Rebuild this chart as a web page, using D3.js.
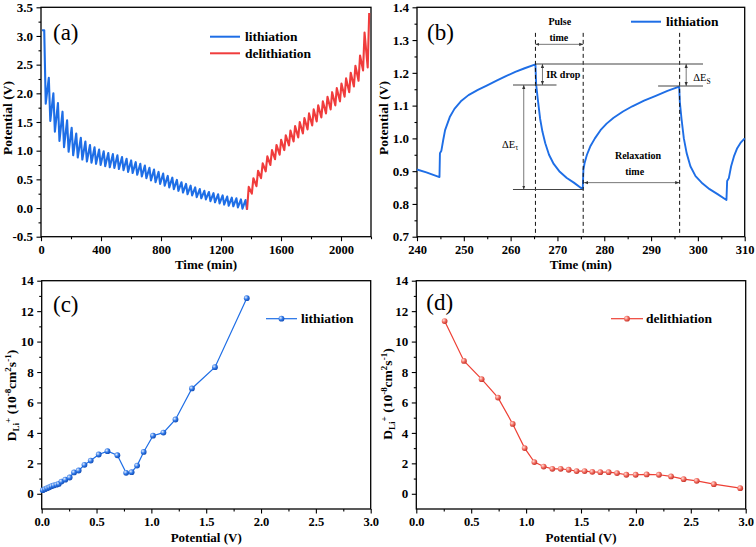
<!DOCTYPE html>
<html><head><meta charset="utf-8">
<script src="https://cdn.jsdelivr.net/npm/d3@7"></script>
<style>
body{margin:0;background:#fff}
svg{display:block}
svg text{font-family:"Liberation Serif","Tinos","Times New Roman","DejaVu Serif","Noto Serif",serif !important}
</style>
</head><body>
<svg id="chart" width="756" height="547"></svg>
<script>
// ---------------- DATA ----------------
// Panel (a): GITT profile. Lithiation pulses (start/end times in min, potentials in V)
const lithRestStart = 7;
const lithPulseStart = [21.5,52,82.5,113,143.5,174,204.5,235,265.5,296,326.5,357,387.5,418,448.5,479,509.5,540,570.5,601,631.5,662,692.5,723,753.5,784,814.5,845,875.5,906,936.5,967,997.5,1028,1058.5,1089,1119.5,1150,1180.5,1211,1241.5,1272,1302.5,1333,1363.5];
const lithPulseEnd = [31.5,62,92.5,123,153.5,184,214.5,245,275.5,306,336.5,367,397.5,428,458.5,489,519.5,550,580.5,611,641.5,672,702.5,733,763.5,794,824.5,855,885.5,916,946.5,977,1007.5,1038,1068.5,1099,1129.5,1160,1190.5,1221,1251.5,1282,1312.5,1343,1373.5];
const lithTop = [3.10,2.27,2.00,1.83,1.68,1.53,1.40,1.30,1.225,1.16,1.10,1.06,1.02,0.99,0.96,0.94,0.92,0.89,0.86,0.83,0.80,0.77,0.74,0.70,0.67,0.63,0.60,0.56,0.53,0.49,0.45,0.42,0.39,0.36,0.33,0.30,0.28,0.26,0.24,0.22,0.20,0.18,0.17,0.15,0.14];
const lithBottom = [1.82,1.52,1.33,1.17,1.06,0.98,0.92,0.88,0.845,0.81,0.79,0.77,0.75,0.73,0.71,0.70,0.68,0.66,0.63,0.61,0.58,0.55,0.52,0.48,0.45,0.42,0.39,0.36,0.33,0.30,0.27,0.24,0.22,0.19,0.17,0.15,0.12,0.10,0.08,0.06,0.04,0.03,0.01,-0.01,-0.03];
// Delithiation pulses
const delithPulseStart = [1374.5,1405.5,1436.5,1467,1498,1529,1560,1591,1622,1653,1684,1715,1746,1777,1808,1838,1869,1900,1931,1962,1993,2024,2055,2086,2117,2147,2178];
const delithPulseEnd = [1385,1416,1447,1478,1509,1540,1570,1601,1632,1663,1694,1725,1756,1787,1818,1848,1879,1910,1941,1972,2003,2034,2065,2096,2127,2157,2188];
const delithTop = [0.37,0.52,0.65,0.78,0.90,1.01,1.10,1.19,1.27,1.35,1.43,1.50,1.57,1.65,1.72,1.79,1.86,1.94,2.02,2.09,2.17,2.26,2.36,2.48,2.66,3.06,3.40];
const delithBottom = [0.25,0.38,0.52,0.64,0.75,0.85,0.93,1.01,1.09,1.16,1.23,1.30,1.37,1.44,1.51,1.58,1.65,1.72,1.79,1.86,1.94,2.02,2.12,2.22,2.40,2.45];

// Panel (b): zoomed lithiation curve [time (min), potential (V)]
const panelBCurve = [
 [240,0.905],[242,0.896],[244.8,0.882],[244.9,0.955],[245.2,0.962],[245.6,0.995],[246,1.025],[247,1.065],[248,1.09],
 [249.5,1.115],[251,1.132],[253,1.148],[255,1.162],[257,1.176],[259,1.19],[261,1.203],[263,1.214],[265.3,1.226],
 [265.45,1.165],[265.8,1.12],[266.3,1.06],[266.8,1.02],[267.4,0.985],[268.2,0.95],[269.2,0.922],[270.5,0.898],
 [272,0.879],[273.5,0.865],[275.4,0.845],[275.55,0.905],[275.8,0.925],[276.3,0.95],[277,0.975],[278,1.0],
 [279.2,1.025],[280.5,1.045],[282,1.063],[284,1.082],[286,1.098],[288.5,1.115],[291,1.13],[293.5,1.145],[296,1.158],
 [296.15,1.11],[296.5,1.06],[297,1.0],[297.6,0.955],[298.4,0.915],[299.5,0.885],[301,0.862],[302.5,0.845],
 [304.2,0.83],[306.1,0.812],[306.25,0.87],[306.6,0.878],[307.1,0.915],[307.7,0.945],[308.4,0.97],[309.2,0.988],[310,1.0]
];
// Panel (b) annotation anchors (data units)
const bDashedTimes = [265.3, 275.5, 296.1];
const bLevels = [ // [t1, t2, V]
 [265.3, 301.1, 1.227],
 [260.5, 269.8, 1.163],
 [291.5, 301.1, 1.160],
 [260.5, 275.6, 0.844]
];
const bVArrows = [ // [t, V1, V2]
 [266.8, 1.227, 1.163],
 [262.8, 1.163, 0.844],
 [297.5, 1.227, 1.160]
];
const bHArrows = [ // [t1, t2, V]
 [265.3, 275.5, 1.287],
 [275.7, 296.0, 0.865]
];

// Panel (c): lithiation diffusion coefficient
const litPotential = [0.01,0.03,0.05,0.07,0.09,0.11,0.135,0.155,0.18,0.215,0.255,0.295,0.337,0.39,0.447,0.52,0.60,0.69,0.77,0.82,0.87,0.93,1.015,1.11,1.22,1.37,1.58,1.87];
const litD = [0.24,0.30,0.37,0.43,0.50,0.55,0.60,0.65,0.80,0.93,1.07,1.40,1.53,1.90,2.18,2.58,2.80,2.53,1.38,1.42,1.85,2.75,3.82,4.02,4.88,6.92,8.32,12.85];
// Panel (d): delithiation diffusion coefficient
const delPotential = [0.258,0.434,0.595,0.744,0.878,0.987,1.075,1.16,1.239,1.315,1.388,1.46,1.533,1.603,1.676,1.752,1.828,1.913,1.998,2.098,2.21,2.32,2.435,2.554,2.71,2.95];
const delD = [11.35,8.73,7.53,6.32,4.59,3.0,2.08,1.79,1.64,1.64,1.58,1.49,1.49,1.44,1.42,1.42,1.36,1.25,1.25,1.27,1.25,1.14,0.96,0.85,0.63,0.37];

// Tick values
const aXTicks = [0,400,800,1200,1600,2000];
const aXMinor = [200,600,1000,1400,1800,2200];
const aYTicks = [-0.5,0,0.5,1.0,1.5,2.0,2.5,3.0,3.5];
const aYMinor = [-0.25,0.25,0.75,1.25,1.75,2.25,2.75,3.25];
const bXTicks = [240,250,260,270,280,290,300,310];
const bXMinor = [245,255,265,275,285,295,305];
const bYTicks = [0.7,0.8,0.9,1.0,1.1,1.2,1.3,1.4];
const bYMinor = [0.75,0.85,0.95,1.05,1.15,1.25,1.35];
const cdXTicks = [0,0.5,1.0,1.5,2.0,2.5,3.0];
const cdXMinor = [0.25,0.75,1.25,1.75,2.25,2.75];
const cdYTicks = [0,2,4,6,8,10,12,14];
const cdYMinor = [1,3,5,7,9,11,13];

// ---------------- DRAWING ----------------
const FONT = '"Liberation Serif","Tinos","Times New Roman","DejaVu Serif","Noto Serif",serif';
const BLUE = "#1e6ee6", RED = "#f03c3c";
const svg = d3.select("#chart").attr("font-family", FONT);
const defs = svg.append("defs");
function sphere(id, c0, c1, c2){
  const g = defs.append("radialGradient").attr("id", id).attr("cx","35%").attr("cy","35%").attr("r","65%");
  g.append("stop").attr("offset","0%").attr("stop-color", c0);
  g.append("stop").attr("offset","55%").attr("stop-color", c1);
  g.append("stop").attr("offset","100%").attr("stop-color", c2);
}
sphere("sphBlue", "#e6f0ff", "#2f78e8", "#1550b8");
sphere("sphRed", "#ffe2dc", "#f26a5e", "#c8382e");
const arrow = defs.append("marker").attr("id","arr").attr("viewBox","0 0 10 10").attr("refX",10).attr("refY",5)
  .attr("markerWidth",5).attr("markerHeight",5).attr("orient","auto-start-reverse");
arrow.append("path").attr("d","M0,1 L10,5 L0,9 z").attr("fill","#333");

const hy = s => s.replace(/\u2212/g, "-");

function panel(o){
  const x = d3.scaleLinear().domain(o.xd).range(o.xr);
  const y = d3.scaleLinear().domain(o.yd).range(o.yr);
  const g = svg.append("g");
  g.append("g").attr("transform",`translate(0,${o.yr[0]})`)
    .call(d3.axisBottom(x).tickValues(o.xMinor).tickSize(2.5).tickFormat("").tickSizeOuter(0))
    .call(a=>a.select(".domain").remove());
  g.append("g").attr("transform",`translate(${o.xr[0]},0)`)
    .call(d3.axisLeft(y).tickValues(o.yMinor).tickSize(2.5).tickFormat("").tickSizeOuter(0))
    .call(a=>a.select(".domain").remove());
  const xa = g.append("g").attr("transform",`translate(0,${o.yr[0]})`)
    .call(d3.axisBottom(x).tickValues(o.xTicks).tickSize(4.5).tickPadding(4).tickSizeOuter(0).tickFormat(v=>hy(d3.format(o.xf)(v))));
  const ya = g.append("g").attr("transform",`translate(${o.xr[0]},0)`)
    .call(d3.axisLeft(y).tickValues(o.yTicks).tickSize(4.5).tickPadding(3.5).tickSizeOuter(0).tickFormat(v=>hy(d3.format(o.yf)(v))));
  [xa, ya].forEach(a=>{
    a.attr("font-family", FONT);
    a.select(".domain").remove();
    a.selectAll("text").attr("font-weight","bold").attr("font-size",13).attr("fill","#000");
  });
  xa.selectAll("text").attr("font-size",12.5);
  g.selectAll(".tick line").attr("stroke","#000").attr("stroke-width",1.1);
  g.append("rect").attr("x",o.xr[0]).attr("y",o.yr[1]).attr("width",o.xr[1]-o.xr[0]).attr("height",o.yr[0]-o.yr[1])
    .attr("fill","none").attr("stroke","#000").attr("stroke-width",1.3);
  g.append("text").attr("x",(o.xr[0]+o.xr[1])/2).attr("y",o.xTitleY).attr("text-anchor","middle")
    .attr("font-weight","bold").attr("font-size",13).text(o.xTitle);
  g.append("text").attr("x",o.lab[0]).attr("y",o.lab[1]).attr("font-size",23).text(o.label);
  return {x, y, g};
}

function yTitlePotential(cx, cy){
  svg.append("text").attr("transform",`translate(${cx},${cy}) rotate(-90)`).attr("text-anchor","middle")
    .attr("font-weight","bold").attr("font-size",13.5).text("Potential (V)");
}
function yTitleD(cx, cy){
  const t = svg.append("text").attr("transform",`translate(${cx},${cy}) rotate(-90)`).attr("text-anchor","middle")
    .attr("font-weight","bold").attr("font-size",13.5);
  t.append("tspan").text("D");
  t.append("tspan").attr("font-size",9).attr("dy",3).text("Li");
  t.append("tspan").attr("font-size",9).attr("dy",-8).text("+");
  t.append("tspan").attr("dy",5).text(" (10");
  t.append("tspan").attr("font-size",9).attr("dy",-5).text("-8");
  t.append("tspan").attr("dy",5).text("cm");
  t.append("tspan").attr("font-size",9).attr("dy",-5).text("2");
  t.append("tspan").attr("dy",5).text("s");
  t.append("tspan").attr("font-size",9).attr("dy",-5).text("-1");
  t.append("tspan").attr("dy",5).text(")");
}

// ---- Panel (a)
const A = panel({xd:[0,2200], xr:[41,371], yd:[-0.5,3.5], yr:[236.7,7.3],
  xTicks:aXTicks, xMinor:aXMinor, yTicks:aYTicks, yMinor:aYMinor, xf:"d", yf:".1f",
  xTitle:"Time (min)", xTitleY:268.5, label:"(a)", lab:[53,40]});
yTitlePotential(11.5,118);
const lithPts = [[lithRestStart, lithTop[0]]];
lithPulseStart.forEach((t,i)=>{ lithPts.push([t, lithTop[i]]); lithPts.push([lithPulseEnd[i], lithBottom[i]]); });
const delPts = [[lithPulseEnd[lithPulseEnd.length-1], lithBottom[lithBottom.length-1]]];
delithPulseStart.forEach((t,i)=>{
  if(i>0) delPts.push([t, delithBottom[i-1]]);
  delPts.push([delithPulseEnd[i], delithTop[i]]);
});
const lineA = d3.line().x(d=>A.x(d[0])).y(d=>A.y(d[1]));
A.g.append("path").attr("d",lineA(lithPts)).attr("fill","none").attr("stroke",BLUE).attr("stroke-width",2.1).attr("stroke-linejoin","round");
A.g.append("path").attr("d",lineA(delPts)).attr("fill","none").attr("stroke",RED).attr("stroke-width",2.1).attr("stroke-linejoin","round");
[[BLUE,"lithiation",36.7],[RED,"delithiation",53.3]].forEach(([c,t,y])=>{
  svg.append("line").attr("x1",210).attr("x2",240).attr("y1",y).attr("y2",y).attr("stroke",c).attr("stroke-width",2);
  svg.append("text").attr("x",245).attr("y",y+4.5).attr("font-weight","bold").attr("font-size",13.5).text(t);
});

// ---- Panel (b)
const B = panel({xd:[240,310], xr:[417,744.7], yd:[0.7,1.4], yr:[236.7,7.3],
  xTicks:bXTicks, xMinor:bXMinor, yTicks:bYTicks, yMinor:bYMinor, xf:"d", yf:".1f",
  xTitle:"Time (min)", xTitleY:268.5, label:"(b)", lab:[427,40]});
yTitlePotential(387.5,118);
B.g.append("path").attr("d",d3.line().x(d=>B.x(d[0])).y(d=>B.y(d[1]))(panelBCurve))
  .attr("fill","none").attr("stroke",BLUE).attr("stroke-width",1.9).attr("stroke-linejoin","round");
bDashedTimes.forEach(t=>{
  B.g.append("line").attr("x1",B.x(t)).attr("x2",B.x(t)).attr("y1",B.y(1.322)).attr("y2",B.y(0.7))
    .attr("stroke","#111").attr("stroke-width",1).attr("stroke-dasharray","4,3");
});
bLevels.forEach(([t1,t2,v])=>{
  B.g.append("line").attr("x1",B.x(t1)).attr("x2",B.x(t2)).attr("y1",B.y(v)).attr("y2",B.y(v)).attr("stroke","#444").attr("stroke-width",1.1);
});
bVArrows.forEach(([t,v1,v2])=>{
  B.g.append("line").attr("x1",B.x(t)).attr("x2",B.x(t)).attr("y1",B.y(v1)).attr("y2",B.y(v2))
    .attr("stroke","#555").attr("stroke-width",0.8).attr("marker-start","url(#arr)").attr("marker-end","url(#arr)");
});
bHArrows.forEach(([t1,t2,v])=>{
  B.g.append("line").attr("x1",B.x(t1)).attr("x2",B.x(t2)).attr("y1",B.y(v)).attr("y2",B.y(v))
    .attr("stroke","#555").attr("stroke-width",0.8).attr("marker-start","url(#arr)").attr("marker-end","url(#arr)");
});
function bText(t, v, s, anchor){
  return B.g.append("text").attr("x",B.x(t)).attr("y",B.y(v)).attr("text-anchor",anchor||"middle")
    .attr("font-weight","bold").attr("font-size",10).text(s);
}
bText(270.5,1.345,"Pulse");
bText(270.3,1.296,"time");
bText(267.6,1.183,"IR drop","start");
bText(287.2,0.937,"Relaxation");
bText(286.5,0.889,"time");
const dEt = B.g.append("text").attr("x",B.x(259.9)).attr("y",B.y(0.972)).attr("text-anchor","middle").attr("font-size",10.5);
dEt.append("tspan").text("ΔE");
dEt.append("tspan").attr("font-size",7.5).attr("dy",2.5).text("τ");
const dEs = B.g.append("text").attr("x",B.x(299)).attr("y",B.y(1.175)).attr("font-size",10.5);
dEs.append("tspan").text("ΔE");
dEs.append("tspan").attr("font-size",7.5).attr("dy",2.5).text("S");
svg.append("line").attr("x1",631).attr("x2",661).attr("y1",21.7).attr("y2",21.7).attr("stroke",BLUE).attr("stroke-width",2);
svg.append("text").attr("x",666).attr("y",26.3).attr("font-weight","bold").attr("font-size",13.5).text("lithiation");

// ---- Panel (c)
const C = panel({xd:[0,3], xr:[41.7,370.7], yd:[-1,14], yr:[509,280.7],
  xTicks:cdXTicks, xMinor:cdXMinor, yTicks:cdYTicks, yMinor:cdYMinor, xf:".1f", yf:"d",
  xTitle:"Potential (V)", xTitleY:541.5, label:"(c)", lab:[53,312]});
yTitleD(15.5,395.5);
const cPts = litPotential.map((p,i)=>[p, litD[i]]);
C.g.append("path").attr("d",d3.line().x(d=>C.x(d[0])).y(d=>C.y(d[1]))(cPts))
  .attr("fill","none").attr("stroke",BLUE).attr("stroke-width",1.2);
C.g.selectAll("circle.pt").data(cPts).join("circle").attr("class","pt")
  .attr("cx",d=>C.x(d[0])).attr("cy",d=>C.y(d[1])).attr("r",2.9).attr("fill","url(#sphBlue)");
svg.append("line").attr("x1",266).attr("x2",297).attr("y1",318.7).attr("y2",318.7).attr("stroke",BLUE).attr("stroke-width",1.2);
svg.append("circle").attr("cx",281.5).attr("cy",318.7).attr("r",2.9).attr("fill","url(#sphBlue)");
svg.append("text").attr("x",301).attr("y",323.3).attr("font-weight","bold").attr("font-size",13.5).text("lithiation");

// ---- Panel (d)
const D = panel({xd:[0,3], xr:[416.3,745.7], yd:[-1,14], yr:[509,280.7],
  xTicks:cdXTicks, xMinor:cdXMinor, yTicks:cdYTicks, yMinor:cdYMinor, xf:".1f", yf:"d",
  xTitle:"Potential (V)", xTitleY:541.5, label:"(d)", lab:[426.3,310]});
yTitleD(391.5,394);
const dPts = delPotential.map((p,i)=>[p, delD[i]]);
D.g.append("path").attr("d",d3.line().x(d=>D.x(d[0])).y(d=>D.y(d[1]))(dPts))
  .attr("fill","none").attr("stroke","#ee4035").attr("stroke-width",1.2);
D.g.selectAll("circle.pt").data(dPts).join("circle").attr("class","pt")
  .attr("cx",d=>D.x(d[0])).attr("cy",d=>D.y(d[1])).attr("r",2.9).attr("fill","url(#sphRed)");
svg.append("line").attr("x1",611).attr("x2",643).attr("y1",318.7).attr("y2",318.7).attr("stroke","#ee4035").attr("stroke-width",1.2);
svg.append("circle").attr("cx",627).attr("cy",318.7).attr("r",2.9).attr("fill","url(#sphRed)");
svg.append("text").attr("x",646).attr("y",323.3).attr("font-weight","bold").attr("font-size",13.5).text("delithiation");
</script>
</body></html>
